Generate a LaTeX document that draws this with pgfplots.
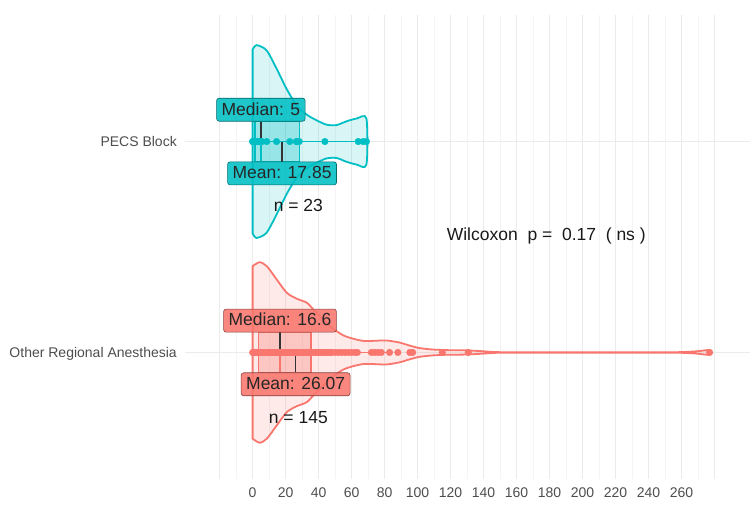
\documentclass[border=0pt]{standalone}
\usepackage{pgfplots}
\pgfplotsset{compat=1.18}
\usepackage{fontspec}
\setmainfont{Liberation Sans}
\definecolor{cA}{HTML}{00BFC4}
\definecolor{cB}{HTML}{F8766D}
\definecolor{grey30}{HTML}{4D4D4D}
\tikzset{lbl/.style={font=\fontsize{17.5}{20}\selectfont, rounded corners=2.5pt, inner xsep=5pt, inner ysep=0pt, minimum height=23pt, text depth=0.2em, text=black!85, fill opacity=0.88, text opacity=1, line width=0.6pt}}
\begin{document}
\begin{tikzpicture}
\path[use as bounding box] (0,0) rectangle (750pt,520pt);
\begin{axis}[
  at={(185pt,41pt)}, anchor=south west,
  scale only axis, width=565pt, height=464pt,
  xmin=-41, xmax=301.5, ymin=0.4, ymax=2.6,
  axis line style={draw=none},
  major tick length=0pt, minor tick length=0pt,
  xtick={-20,0,...,280},
  xticklabels={{},0,20,40,60,80,100,120,140,160,180,200,220,240,260,{}},
  minor x tick num=1,
  ytick={1,2}, yticklabels={Other Regional Anesthesia,PECS Block},
  xmajorgrids, xminorgrids, ymajorgrids,
  major grid style={color=gray!16, line width=0.8pt},
  minor grid style={color=gray!9, line width=0.6pt},
  xticklabel style={font=\fontsize{14}{16}\selectfont, text=grey30, inner sep=0pt, anchor=north, yshift=-9pt},
  yticklabel style={font=\fontsize{14}{16}\selectfont, text=grey30, inner sep=0pt, anchor=east, xshift=-8pt, text depth=0pt},
  clip=false,
]
% ---------- violins ----------
\addplot[draw=cA, line width=1.8pt, fill=cA, fill opacity=0.15, smooth, tension=0.45] coordinates {
 (0,2.436) (2.4,2.457) (8.4,2.433) (14.5,2.346) (20.5,2.251) (26.6,2.172) (32.7,2.128) (38.7,2.101) (44.8,2.080) (50.9,2.078) (56.9,2.096) (63,2.109) (69,2.109)
 (69,1.891) (63,1.891) (56.9,1.904) (50.9,1.922) (44.8,1.920) (38.7,1.899) (32.7,1.872) (26.6,1.828) (20.5,1.749) (14.5,1.654) (8.4,1.567) (2.4,1.543) (0,1.564)
} -- cycle;
\addplot[draw=cB, line width=1.8pt, fill=cB, fill opacity=0.15, smooth, tension=0.45] coordinates {
 (0,1.409) (4.2,1.428) (8.6,1.409) (14.6,1.346) (20.7,1.283) (26.7,1.255) (32.8,1.236) (36.8,1.204) (42.9,1.156) (48.9,1.112) (55,1.081) (61,1.065) (67,1.055) (73,1.055) (81,1.057) (89,1.047) (95,1.033) (101,1.021) (109,1.014) (118,1.011) (129,1.010) (139,1.006) (147,1.002) (160,1.0012) (250,1.0012) (262,1.0024) (270,1.006) (277,1.011)
 (277,0.989) (270,0.994) (262,0.9976) (250,0.9988) (160,0.9988) (147,0.998) (139,0.994) (129,0.990) (118,0.989) (109,0.986) (101,0.979) (95,0.967) (89,0.953) (81,0.943) (73,0.945) (67,0.945) (61,0.935) (55,0.919) (48.9,0.888) (42.9,0.844) (36.8,0.796) (32.8,0.764) (26.7,0.745) (20.7,0.717) (14.6,0.654) (8.6,0.591) (4.2,0.572) (0,0.591)
} -- cycle;
% ---------- boxes (IQR) ----------
\addplot[draw=cA, line width=1.3pt, fill=cA, fill opacity=0.3] coordinates {(1.4,1.905) (28.5,1.905) (28.5,2.095) (1.4,2.095)} -- cycle;
\addplot[draw=cB, line width=1.3pt, fill=cB, fill opacity=0.3] coordinates {(3.4,0.905) (35.3,0.905) (35.3,1.095) (3.4,1.095)} -- cycle;
\addplot[draw=cA, line width=1.3pt] coordinates {(5,1.905) (5,2.095)};
\addplot[draw=cB, line width=1.3pt] coordinates {(16.6,0.905) (16.6,1.095)};
% ---------- whiskers ----------
\addplot[draw=cA, line width=1.6pt] coordinates {(0,2) (69,2)};
\addplot[draw=cB, line width=1.6pt] coordinates {(0,1) (83,1)};
% ---------- points ----------
\addplot[only marks, mark=*, mark size=3.3pt, mark options={draw=cA, fill=cA}] coordinates {
 (0,2) (0,2) (0.5,2) (1,2) (1.5,2) (2,2) (3,2) (4,2) (5,2) (5,2) (5,2) (5,2) (5.5,2) (8.5,2) (14.5,2) (22.5,2) (26.5,2) (27,2) (28.25,2) (43.8,2) (64,2) (67,2) (69,2)
};
\addplot[only marks, mark=*, mark size=3.3pt, mark options={draw=cB, fill=cB}] coordinates {
 (0,1) (0.5,1) (1,1) (1.5,1) (2,1) (2.5,1) (3,1) (3.5,1) (4,1) (4.5,1) (5,1) (6,1) (7,1) (8,1) (9,1) (10,1) (11,1) (12,1) (13,1) (14,1) (15,1) (16,1) (17,1) (18,1) (19,1) (20,1) (21,1) (22,1) (23,1) (24,1) (25,1) (26,1) (27,1) (28,1) (29,1) (30,1) (31,1) (32,1) (33,1) (34,1) (35,1) (36,1) (37,1) (38,1) (39,1) (40,1) (41,1) (42,1) (43,1) (44,1) (45,1) (46,1) (47,1) (48,1) (50,1) (52,1) (54,1) (56,1) (58,1) (60,1) (62,1) (63.5,1) (72,1) (74,1) (76,1) (78,1) (83,1) (88,1) (95.3,1) (97,1) (115,1) (130.7,1) (277,1)
};
% ---------- median / mean segments ----------
\addplot[draw=black!80, line width=1.4pt] coordinates {(5,2) (5,2.095)};
\addplot[draw=black!80, line width=1.4pt] coordinates {(17.85,2) (17.85,1.905)};
\addplot[draw=black!80, line width=1.4pt] coordinates {(16.6,1) (16.6,1.095)};
\addplot[draw=black!80, line width=1.4pt] coordinates {(26.07,1) (26.07,0.905)};
% ---------- labels ----------
\node[lbl, fill=cA, draw=cA!55!black, anchor=south] at (axis cs:5,2.095) {Median: 5};
\node[lbl, fill=cA, draw=cA!55!black, anchor=north] at (axis cs:17.85,1.905) {Mean: 17.85};
\node[lbl, fill=cB, draw=cB!55!black, anchor=south] at (axis cs:16.6,1.095) {Median: 16.6};
\node[lbl, fill=cB, draw=cB!55!black, anchor=north] at (axis cs:26.07,0.905) {Mean: 26.07};
\node[font=\fontsize{17.5}{20}\selectfont, text=black!90] at (axis cs:27.7,1.698) {n = 23};
\node[font=\fontsize{17.5}{20}\selectfont, text=black!90] at (axis cs:27.7,0.692) {n = 145};
\node[font=\fontsize{17.5}{20}\selectfont, text=black!90] at (axis cs:178,1.551) {Wilcoxon\ \ p =\ \ 0.17\ \ ( ns )};
\end{axis}
\end{tikzpicture}
\end{document}
